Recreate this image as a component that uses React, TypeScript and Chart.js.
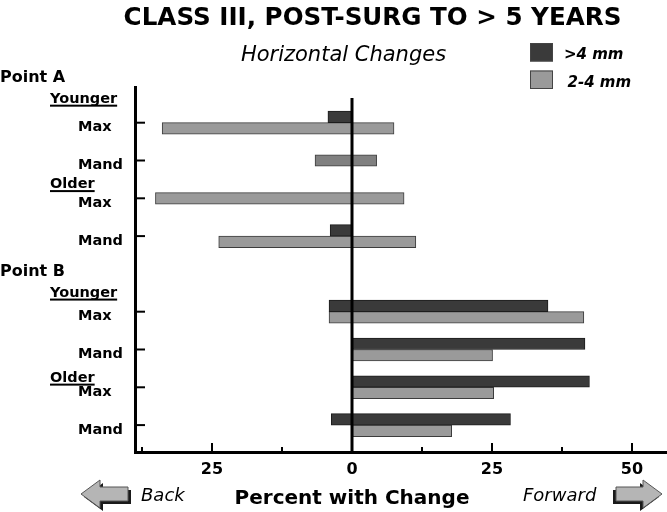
import React, { useEffect, useRef } from 'react';
import { Chart, registerables } from 'chart.js';

Chart.register(...registerables);

const FONT = "'DejaVu Sans', 'Liberation Sans', Arial, sans-serif";

// ---- text ----
const TITLE = 'CLASS III, POST-SURG TO > 5 YEARS';
const SUBTITLE = 'Horizontal Changes';
const X_AXIS_TITLE = 'Percent with Change';
const BACK_LABEL = 'Back';
const FORWARD_LABEL = 'Forward';

// ---- data ----
// rows (top to bottom); '' is the spacer between Point A and Point B
const categories = ['Max', 'Mand', 'Max', 'Mand', '', 'Max', 'Mand', 'Max', 'Mand'];
const headingTexts = ['Point A', 'Younger', 'Older', 'Point B', 'Younger', 'Older'];
const seriesNames = ['>4 mm', '2-4 mm'];

// percent with change: back (negative) and forward (positive)
const darkBack = [-4.3, null, null, -3.9, null, -4.1, 0, 0, -3.7];
const darkForward = [0, null, null, 0, null, 35.0, 41.6, 42.4, 28.3];
const lightBack = [-33.9, -6.6, -35.1, -23.8, null, -4.1, 0, 0, 0];
const lightForward = [7.5, 4.4, 9.3, 11.4, null, 41.4, 25.1, 25.3, 17.8];

// x ticks (every 12.5) and the ones that carry a label
const xTickValues = [-37.5, -25, -12.5, 0, 12.5, 25, 37.5, 50];
const labelledTicks = [-25, 0, 25, 50];

// ---- layout / style ----
const HEADING_ROWS = [-1.077, -0.53, 1.73, 4.05, 4.6, 6.85];
const HEADING_LEVEL = [0, 1, 1, 0, 1, 1];
const DARK = '#3a3a3a';
const LIGHT = '#9a9a9a';
const LIGHT_ALT = '#808080';
const LIGHT_ALT_ROW = 1;
const SERIES_COLORS = [DARK, LIGHT];

type Pt = { x: number[] | null; y: number };
const toFloating = (back: (number | null)[], fwd: (number | null)[]): Pt[] =>
  back.map((b, i) => ({
    y: i,
    x: b === null && fwd[i] === null ? null : [b ?? 0, fwd[i] ?? 0],
  }));

function drawArrow(ctx: CanvasRenderingContext2D, x: number, y: number, w: number, h: number, dir: number) {
  const head = 19;
  const inset = 7;
  const raw: [number, number][] = [
    [0, h / 2],
    [head, 0],
    [head, inset],
    [w, inset],
    [w, h - inset],
    [head, h - inset],
    [head, h],
  ];
  const pts = raw.map(([px, py]) => [dir < 0 ? x + px : x + w - px, y + py]);
  const path = (dx: number, dy: number) => {
    ctx.beginPath();
    pts.forEach(([px, py], i) => (i === 0 ? ctx.moveTo(px + dx, py + dy) : ctx.lineTo(px + dx, py + dy)));
    ctx.closePath();
  };
  ctx.fillStyle = '#1a1a1a';
  path(dir < 0 ? 3 : -3, 3);
  ctx.fill();
  ctx.fillStyle = '#b5b5b5';
  ctx.strokeStyle = '#555';
  ctx.lineWidth = 1;
  path(0, 0);
  ctx.fill();
  ctx.stroke();
}

const decorPlugin = {
  id: 'decor',
  afterDatasetsDraw(chart: any) {
    const { ctx, chartArea, scales } = chart;
    const x0 = scales.x.getPixelForValue(0);
    ctx.save();
    ctx.strokeStyle = '#000';
    ctx.lineWidth = 3;
    ctx.beginPath();
    ctx.moveTo(x0, chartArea.top + 11);
    ctx.lineTo(x0, chartArea.bottom);
    ctx.stroke();
    // inward tick marks on the category axis
    ctx.lineWidth = 2;
    scales.y.ticks.forEach((t: any) => {
      const py = scales.y.getPixelForValue(t.value);
      ctx.beginPath();
      ctx.moveTo(chartArea.left, py);
      ctx.lineTo(chartArea.left + 10, py);
      ctx.stroke();
    });
    // inward tick marks on the value axis (major longer than minor)
    scales.x.ticks.forEach((t: any) => {
      const px = scales.x.getPixelForValue(t.value);
      const len = labelledTicks.includes(t.value) ? 9 : 5;
      ctx.beginPath();
      ctx.moveTo(px, chartArea.bottom);
      ctx.lineTo(px, chartArea.bottom - len);
      ctx.stroke();
    });
    ctx.restore();
  },
  afterDraw(chart: any) {
    const { ctx, scales } = chart;
    const xs = scales.x;
    const ys = scales.y;
    ctx.save();
    ctx.fillStyle = '#000';
    ctx.textBaseline = 'alphabetic';

    // subtitle
    ctx.font = `italic 21px ${FONT}`;
    ctx.textAlign = 'center';
    ctx.fillText(SUBTITLE, 343.5, 61);

    // legend
    chart.data.datasets.forEach((ds: any, i: number) => {
      const by = 43 + i * 27.5;
      ctx.fillStyle = SERIES_COLORS[i];
      ctx.fillRect(530, by, 23, 18.5);
      ctx.strokeStyle = '#444';
      ctx.lineWidth = 1;
      ctx.strokeRect(530.5, by + 0.5, 22, 17.5);
      ctx.fillStyle = '#000';
      ctx.font = `italic bold 15px ${FONT}`;
      ctx.textAlign = 'left';
      ctx.fillText(ds.label, 564 + i * 3.5, by + 16);
    });

    // group headings
    headingTexts.forEach((t, i) => {
      const lvl = HEADING_LEVEL[i];
      const yb = ys.getPixelForValue(HEADING_ROWS[i]);
      const xl = lvl === 0 ? 0 : 50;
      ctx.font = `bold ${lvl === 0 ? 16 : 14.5}px ${FONT}`;
      ctx.textAlign = 'left';
      ctx.fillStyle = '#000';
      ctx.fillText(t, xl, yb);
      if (lvl === 1) {
        const w = ctx.measureText(t).width;
        ctx.fillRect(xl, yb + 2, w, 2);
      }
    });

    // bottom labels
    const x0 = xs.getPixelForValue(0);
    ctx.font = `bold 20px ${FONT}`;
    ctx.textAlign = 'center';
    ctx.fillText(X_AXIS_TITLE, x0, 504);
    ctx.font = `italic 18px ${FONT}`;
    ctx.textAlign = 'left';
    ctx.fillText(BACK_LABEL, 141, 501);
    ctx.fillText(FORWARD_LABEL, 523, 501);

    drawArrow(ctx, 81, 480, 47, 28, -1);
    drawArrow(ctx, 616, 480, 46, 28, 1);
    ctx.restore();
  },
};

export default function App() {
  const ref = useRef<HTMLCanvasElement | null>(null);

  useEffect(() => {
    if (!ref.current) return;
    const common = {
      borderWidth: 1,
      borderSkipped: false,
      barThickness: 11.5,
      skipNull: true,
      grouped: true,
    };
    const chart = new Chart(ref.current, {
      type: 'bar',
      data: {
        datasets: [
          {
            ...common,
            label: seriesNames[0],
            data: toFloating(darkBack, darkForward) as any,
            backgroundColor: DARK,
            borderColor: '#1c1c1c',
          },
          {
            ...common,
            label: seriesNames[1],
            data: toFloating(lightBack, lightForward) as any,
            backgroundColor: (c: any) => (c.dataIndex === LIGHT_ALT_ROW ? LIGHT_ALT : LIGHT),
            borderColor: '#3c3c3c',
          },
        ] as any,
      },
      options: {
        indexAxis: 'y',
        animation: false,
        responsive: false,
        devicePixelRatio: 1,
        layout: { padding: { left: 78, top: 0, right: 0, bottom: 0 } },
        plugins: {
          legend: { display: false },
          tooltip: { enabled: false },
          title: {
            display: true,
            text: TITLE,
            color: '#000',
            font: { family: FONT, size: 24.6, weight: 'bold' },
            padding: { top: 4, bottom: 53.5 },
          },
        },
        scales: {
          x: {
            type: 'linear',
            min: -38.75,
            max: 56.25,
            bounds: 'data',
            afterBuildTicks: (s: any) => {
              s.ticks = xTickValues.map((v) => ({ value: v }));
            },
            afterFit: (s: any) => {
              s.height = 60;
              s.paddingLeft = 0;
              s.paddingRight = 0;
            },
            border: { display: true, color: '#000', width: 3 },
            grid: {
              display: true,
              drawOnChartArea: false,
              drawTicks: false,
            },
            ticks: {
              autoSkip: false,
              maxRotation: 0,
              minRotation: 0,
              padding: 8,
              color: '#000',
              font: { family: FONT, size: 16, weight: 'bold' },
              callback: (v: any) => (labelledTicks.includes(Number(v)) ? String(Math.abs(Number(v))) : ''),
            },
          },
          y: {
            type: 'linear',
            reverse: true,
            min: -0.944,
            max: 8.712,
            bounds: 'data',
            offset: false,
            afterBuildTicks: (s: any) => {
              s.ticks = categories
                .map((c, i) => ({ c, value: i }))
                .filter((t) => t.c !== '')
                .map((t) => ({ value: t.value }));
            },
            afterFit: (s: any) => {
              s.width = 57;
              s.paddingTop = 0;
              s.paddingBottom = 0;
            },
            border: { display: true, color: '#000', width: 3 },
            grid: {
              display: true,
              offset: false,
              drawOnChartArea: false,
              drawTicks: false,
            },
            ticks: {
              autoSkip: false,
              crossAlign: 'far',
              labelOffset: 5,
              color: '#000',
              font: { family: FONT, size: 14.5, weight: 'bold' },
              callback: (v: any) => categories[Number(v)] ?? '',
            },
          },
        },
      } as any,
      plugins: [decorPlugin],
    });
    return () => chart.destroy();
  }, []);

  return (
    <div style={{ position: 'absolute', left: 0, top: 0, width: 667, height: 512, background: '#fff' }}>
      <canvas ref={ref} width={667} height={512} style={{ display: 'block', width: 667, height: 512 }} />
    </div>
  );
}
